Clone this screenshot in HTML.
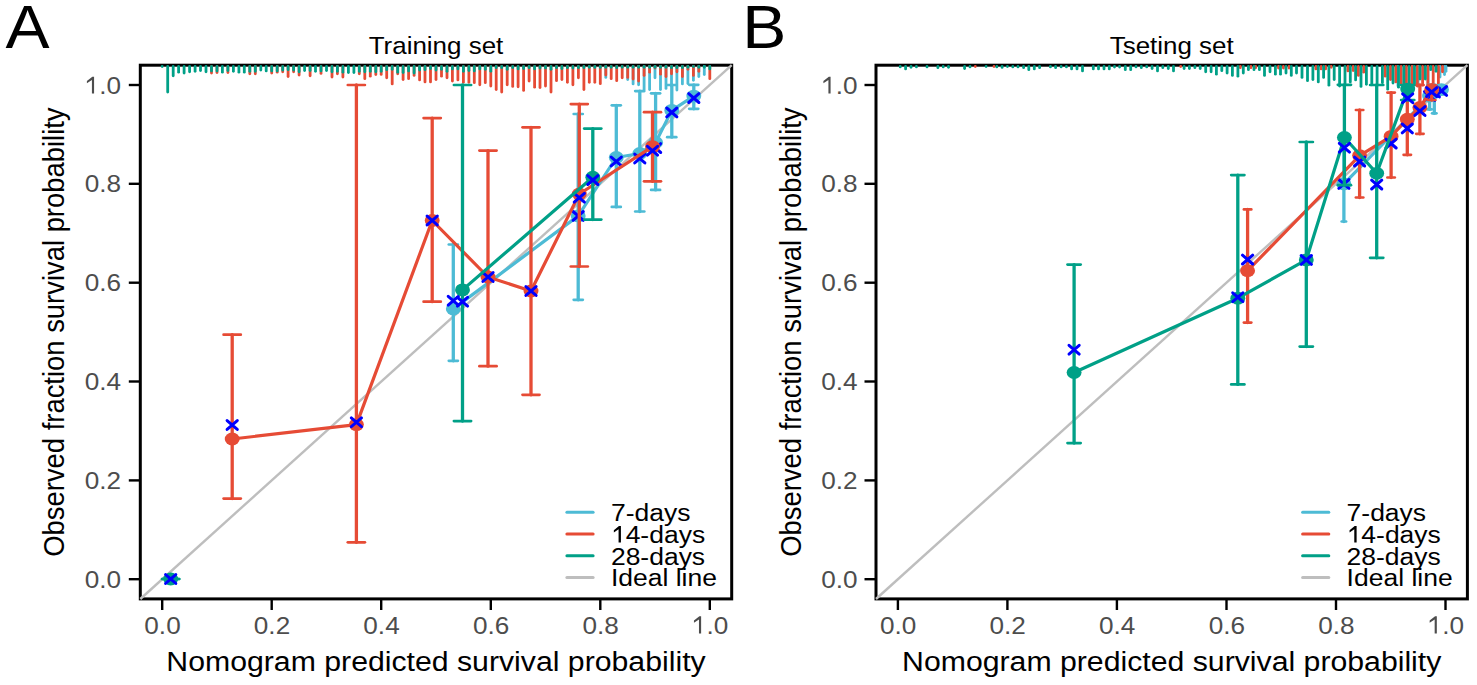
<!DOCTYPE html><html><head><meta charset="utf-8"><style>
*{margin:0;padding:0}
html,body{width:1477px;height:685px;overflow:hidden;background:#fff}
svg{display:block}
text{font-family:"Liberation Sans",sans-serif}
.tk{font-size:24px;fill:#4D4D4D}
.ti{font-size:23.6px;fill:#000}
.ax{font-size:27.8px;fill:#000}
.axy{font-size:30px;fill:#000}
.lt{font-size:61.5px;fill:#000}
.lg{font-size:24.2px;fill:#000}
</style></head><body><svg width="1477" height="685" viewBox="0 0 1477 685">
<rect width="1477" height="685" fill="#fff"/>
<rect x="140.3" y="65.2" width="591.4" height="533.7" fill="none" stroke="#000" stroke-width="3"/>
<line x1="140.3" y1="599.0" x2="731.7" y2="65.2" stroke="#BEBEBE" stroke-width="2.4"/>
<rect x="876.0" y="65.2" width="591.4" height="533.7" fill="none" stroke="#000" stroke-width="3"/>
<line x1="876.0" y1="599.0" x2="1467.4" y2="65.2" stroke="#BEBEBE" stroke-width="2.4"/>
<line x1="605.8" y1="66.4" x2="605.8" y2="77.4" stroke="#4DBBD5" stroke-width="2.8" stroke-linecap="round"/>
<line x1="627.7" y1="66.4" x2="627.7" y2="79.5" stroke="#4DBBD5" stroke-width="2.8" stroke-linecap="round"/>
<line x1="633.1" y1="66.4" x2="633.1" y2="83.9" stroke="#4DBBD5" stroke-width="2.8" stroke-linecap="round"/>
<line x1="638.6" y1="66.4" x2="638.6" y2="84.8" stroke="#4DBBD5" stroke-width="2.8" stroke-linecap="round"/>
<line x1="644.1" y1="66.4" x2="644.1" y2="89.2" stroke="#4DBBD5" stroke-width="2.8" stroke-linecap="round"/>
<line x1="649.6" y1="66.4" x2="649.6" y2="89.6" stroke="#4DBBD5" stroke-width="2.8" stroke-linecap="round"/>
<line x1="655.0" y1="66.4" x2="655.0" y2="77.8" stroke="#4DBBD5" stroke-width="2.8" stroke-linecap="round"/>
<line x1="660.5" y1="66.4" x2="660.5" y2="89.6" stroke="#4DBBD5" stroke-width="2.8" stroke-linecap="round"/>
<line x1="666.0" y1="66.4" x2="666.0" y2="88.4" stroke="#4DBBD5" stroke-width="2.8" stroke-linecap="round"/>
<line x1="671.5" y1="66.4" x2="671.5" y2="86.0" stroke="#4DBBD5" stroke-width="2.8" stroke-linecap="round"/>
<line x1="676.9" y1="66.4" x2="676.9" y2="90.0" stroke="#4DBBD5" stroke-width="2.8" stroke-linecap="round"/>
<line x1="682.4" y1="66.4" x2="682.4" y2="83.9" stroke="#4DBBD5" stroke-width="2.8" stroke-linecap="round"/>
<line x1="687.9" y1="66.4" x2="687.9" y2="83.5" stroke="#4DBBD5" stroke-width="2.8" stroke-linecap="round"/>
<line x1="693.4" y1="66.4" x2="693.4" y2="80.3" stroke="#4DBBD5" stroke-width="2.8" stroke-linecap="round"/>
<line x1="698.8" y1="66.4" x2="698.8" y2="76.6" stroke="#4DBBD5" stroke-width="2.8" stroke-linecap="round"/>
<line x1="704.3" y1="66.4" x2="704.3" y2="74.6" stroke="#4DBBD5" stroke-width="2.8" stroke-linecap="round"/>
<line x1="211.5" y1="66.4" x2="211.5" y2="73.0" stroke="#E64B35" stroke-width="2.8" stroke-linecap="round"/>
<line x1="217.0" y1="66.4" x2="217.0" y2="72.6" stroke="#E64B35" stroke-width="2.8" stroke-linecap="round"/>
<line x1="227.9" y1="66.4" x2="227.9" y2="72.6" stroke="#E64B35" stroke-width="2.8" stroke-linecap="round"/>
<line x1="249.8" y1="66.4" x2="249.8" y2="73.8" stroke="#E64B35" stroke-width="2.8" stroke-linecap="round"/>
<line x1="255.3" y1="66.4" x2="255.3" y2="73.8" stroke="#E64B35" stroke-width="2.8" stroke-linecap="round"/>
<line x1="271.7" y1="66.4" x2="271.7" y2="73.0" stroke="#E64B35" stroke-width="2.8" stroke-linecap="round"/>
<line x1="277.2" y1="66.4" x2="277.2" y2="72.2" stroke="#E64B35" stroke-width="2.8" stroke-linecap="round"/>
<line x1="282.7" y1="66.4" x2="282.7" y2="71.8" stroke="#E64B35" stroke-width="2.8" stroke-linecap="round"/>
<line x1="288.1" y1="66.4" x2="288.1" y2="76.6" stroke="#E64B35" stroke-width="2.8" stroke-linecap="round"/>
<line x1="293.6" y1="66.4" x2="293.6" y2="71.8" stroke="#E64B35" stroke-width="2.8" stroke-linecap="round"/>
<line x1="299.1" y1="66.4" x2="299.1" y2="75.0" stroke="#E64B35" stroke-width="2.8" stroke-linecap="round"/>
<line x1="310.1" y1="66.4" x2="310.1" y2="75.8" stroke="#E64B35" stroke-width="2.8" stroke-linecap="round"/>
<line x1="321.0" y1="66.4" x2="321.0" y2="73.4" stroke="#E64B35" stroke-width="2.8" stroke-linecap="round"/>
<line x1="332.0" y1="66.4" x2="332.0" y2="77.0" stroke="#E64B35" stroke-width="2.8" stroke-linecap="round"/>
<line x1="337.4" y1="66.4" x2="337.4" y2="73.8" stroke="#E64B35" stroke-width="2.8" stroke-linecap="round"/>
<line x1="342.9" y1="66.4" x2="342.9" y2="77.0" stroke="#E64B35" stroke-width="2.8" stroke-linecap="round"/>
<line x1="359.3" y1="66.4" x2="359.3" y2="73.8" stroke="#E64B35" stroke-width="2.8" stroke-linecap="round"/>
<line x1="364.8" y1="66.4" x2="364.8" y2="78.7" stroke="#E64B35" stroke-width="2.8" stroke-linecap="round"/>
<line x1="370.3" y1="66.4" x2="370.3" y2="76.2" stroke="#E64B35" stroke-width="2.8" stroke-linecap="round"/>
<line x1="375.8" y1="66.4" x2="375.8" y2="74.6" stroke="#E64B35" stroke-width="2.8" stroke-linecap="round"/>
<line x1="381.2" y1="66.4" x2="381.2" y2="74.4" stroke="#E64B35" stroke-width="2.8" stroke-linecap="round"/>
<line x1="386.7" y1="66.4" x2="386.7" y2="77.8" stroke="#E64B35" stroke-width="2.8" stroke-linecap="round"/>
<line x1="392.2" y1="66.4" x2="392.2" y2="83.9" stroke="#E64B35" stroke-width="2.8" stroke-linecap="round"/>
<line x1="397.7" y1="66.4" x2="397.7" y2="73.8" stroke="#E64B35" stroke-width="2.8" stroke-linecap="round"/>
<line x1="403.1" y1="66.4" x2="403.1" y2="79.5" stroke="#E64B35" stroke-width="2.8" stroke-linecap="round"/>
<line x1="408.6" y1="66.4" x2="408.6" y2="78.7" stroke="#E64B35" stroke-width="2.8" stroke-linecap="round"/>
<line x1="414.1" y1="66.4" x2="414.1" y2="75.4" stroke="#E64B35" stroke-width="2.8" stroke-linecap="round"/>
<line x1="419.6" y1="66.4" x2="419.6" y2="79.9" stroke="#E64B35" stroke-width="2.8" stroke-linecap="round"/>
<line x1="425.0" y1="66.4" x2="425.0" y2="81.9" stroke="#E64B35" stroke-width="2.8" stroke-linecap="round"/>
<line x1="430.5" y1="66.4" x2="430.5" y2="81.9" stroke="#E64B35" stroke-width="2.8" stroke-linecap="round"/>
<line x1="436.0" y1="66.4" x2="436.0" y2="79.5" stroke="#E64B35" stroke-width="2.8" stroke-linecap="round"/>
<line x1="441.5" y1="66.4" x2="441.5" y2="76.2" stroke="#E64B35" stroke-width="2.8" stroke-linecap="round"/>
<line x1="447.0" y1="66.4" x2="447.0" y2="77.8" stroke="#E64B35" stroke-width="2.8" stroke-linecap="round"/>
<line x1="452.4" y1="66.4" x2="452.4" y2="81.1" stroke="#E64B35" stroke-width="2.8" stroke-linecap="round"/>
<line x1="457.9" y1="66.4" x2="457.9" y2="79.9" stroke="#E64B35" stroke-width="2.8" stroke-linecap="round"/>
<line x1="463.4" y1="66.4" x2="463.4" y2="82.3" stroke="#E64B35" stroke-width="2.8" stroke-linecap="round"/>
<line x1="468.9" y1="66.4" x2="468.9" y2="82.3" stroke="#E64B35" stroke-width="2.8" stroke-linecap="round"/>
<line x1="474.3" y1="66.4" x2="474.3" y2="82.7" stroke="#E64B35" stroke-width="2.8" stroke-linecap="round"/>
<line x1="479.8" y1="66.4" x2="479.8" y2="84.8" stroke="#E64B35" stroke-width="2.8" stroke-linecap="round"/>
<line x1="485.3" y1="66.4" x2="485.3" y2="82.7" stroke="#E64B35" stroke-width="2.8" stroke-linecap="round"/>
<line x1="490.8" y1="66.4" x2="490.8" y2="86.1" stroke="#E64B35" stroke-width="2.8" stroke-linecap="round"/>
<line x1="496.2" y1="66.4" x2="496.2" y2="89.6" stroke="#E64B35" stroke-width="2.8" stroke-linecap="round"/>
<line x1="501.7" y1="66.4" x2="501.7" y2="92.1" stroke="#E64B35" stroke-width="2.8" stroke-linecap="round"/>
<line x1="507.2" y1="66.4" x2="507.2" y2="84.8" stroke="#E64B35" stroke-width="2.8" stroke-linecap="round"/>
<line x1="512.7" y1="66.4" x2="512.7" y2="86.4" stroke="#E64B35" stroke-width="2.8" stroke-linecap="round"/>
<line x1="518.1" y1="66.4" x2="518.1" y2="86.8" stroke="#E64B35" stroke-width="2.8" stroke-linecap="round"/>
<line x1="523.6" y1="66.4" x2="523.6" y2="90.4" stroke="#E64B35" stroke-width="2.8" stroke-linecap="round"/>
<line x1="529.1" y1="66.4" x2="529.1" y2="81.1" stroke="#E64B35" stroke-width="2.8" stroke-linecap="round"/>
<line x1="534.6" y1="66.4" x2="534.6" y2="87.2" stroke="#E64B35" stroke-width="2.8" stroke-linecap="round"/>
<line x1="540.0" y1="66.4" x2="540.0" y2="87.6" stroke="#E64B35" stroke-width="2.8" stroke-linecap="round"/>
<line x1="545.5" y1="66.4" x2="545.5" y2="86.0" stroke="#E64B35" stroke-width="2.8" stroke-linecap="round"/>
<line x1="551.0" y1="66.4" x2="551.0" y2="92.1" stroke="#E64B35" stroke-width="2.8" stroke-linecap="round"/>
<line x1="556.5" y1="66.4" x2="556.5" y2="80.7" stroke="#E64B35" stroke-width="2.8" stroke-linecap="round"/>
<line x1="561.9" y1="66.4" x2="561.9" y2="79.5" stroke="#E64B35" stroke-width="2.8" stroke-linecap="round"/>
<line x1="567.4" y1="66.4" x2="567.4" y2="82.3" stroke="#E64B35" stroke-width="2.8" stroke-linecap="round"/>
<line x1="572.9" y1="66.4" x2="572.9" y2="84.8" stroke="#E64B35" stroke-width="2.8" stroke-linecap="round"/>
<line x1="578.4" y1="66.4" x2="578.4" y2="77.8" stroke="#E64B35" stroke-width="2.8" stroke-linecap="round"/>
<line x1="583.9" y1="66.4" x2="583.9" y2="89.6" stroke="#E64B35" stroke-width="2.8" stroke-linecap="round"/>
<line x1="589.3" y1="66.4" x2="589.3" y2="82.3" stroke="#E64B35" stroke-width="2.8" stroke-linecap="round"/>
<line x1="594.8" y1="66.4" x2="594.8" y2="82.3" stroke="#E64B35" stroke-width="2.8" stroke-linecap="round"/>
<line x1="600.3" y1="66.4" x2="600.3" y2="83.7" stroke="#E64B35" stroke-width="2.8" stroke-linecap="round"/>
<line x1="605.8" y1="66.4" x2="605.8" y2="75.0" stroke="#E64B35" stroke-width="2.8" stroke-linecap="round"/>
<line x1="611.2" y1="66.4" x2="611.2" y2="78.7" stroke="#E64B35" stroke-width="2.8" stroke-linecap="round"/>
<line x1="616.7" y1="66.4" x2="616.7" y2="80.7" stroke="#E64B35" stroke-width="2.8" stroke-linecap="round"/>
<line x1="622.2" y1="66.4" x2="622.2" y2="77.8" stroke="#E64B35" stroke-width="2.8" stroke-linecap="round"/>
<line x1="627.7" y1="66.4" x2="627.7" y2="77.4" stroke="#E64B35" stroke-width="2.8" stroke-linecap="round"/>
<line x1="633.1" y1="66.4" x2="633.1" y2="79.1" stroke="#E64B35" stroke-width="2.8" stroke-linecap="round"/>
<line x1="638.6" y1="66.4" x2="638.6" y2="81.1" stroke="#E64B35" stroke-width="2.8" stroke-linecap="round"/>
<line x1="644.1" y1="66.4" x2="644.1" y2="75.4" stroke="#E64B35" stroke-width="2.8" stroke-linecap="round"/>
<line x1="649.6" y1="66.4" x2="649.6" y2="72.2" stroke="#E64B35" stroke-width="2.8" stroke-linecap="round"/>
<line x1="655.0" y1="66.4" x2="655.0" y2="68.1" stroke="#E64B35" stroke-width="2.8" stroke-linecap="round"/>
<line x1="660.5" y1="66.4" x2="660.5" y2="74.2" stroke="#E64B35" stroke-width="2.8" stroke-linecap="round"/>
<line x1="666.0" y1="66.4" x2="666.0" y2="76.6" stroke="#E64B35" stroke-width="2.8" stroke-linecap="round"/>
<line x1="671.5" y1="66.4" x2="671.5" y2="73.8" stroke="#E64B35" stroke-width="2.8" stroke-linecap="round"/>
<line x1="676.9" y1="66.4" x2="676.9" y2="71.8" stroke="#E64B35" stroke-width="2.8" stroke-linecap="round"/>
<line x1="682.4" y1="66.4" x2="682.4" y2="76.6" stroke="#E64B35" stroke-width="2.8" stroke-linecap="round"/>
<line x1="687.9" y1="66.4" x2="687.9" y2="69.3" stroke="#E64B35" stroke-width="2.8" stroke-linecap="round"/>
<line x1="693.4" y1="66.4" x2="693.4" y2="75.4" stroke="#E64B35" stroke-width="2.8" stroke-linecap="round"/>
<line x1="698.8" y1="66.4" x2="698.8" y2="71.3" stroke="#E64B35" stroke-width="2.8" stroke-linecap="round"/>
<line x1="709.8" y1="66.4" x2="709.8" y2="78.7" stroke="#E64B35" stroke-width="2.8" stroke-linecap="round"/>
<line x1="162.2" y1="66.4" x2="162.2" y2="66.5" stroke="#00A087" stroke-width="2.8" stroke-linecap="round"/>
<line x1="167.7" y1="66.4" x2="167.7" y2="92.1" stroke="#00A087" stroke-width="2.8" stroke-linecap="round"/>
<line x1="173.2" y1="66.4" x2="173.2" y2="75.8" stroke="#00A087" stroke-width="2.8" stroke-linecap="round"/>
<line x1="178.6" y1="66.4" x2="178.6" y2="72.2" stroke="#00A087" stroke-width="2.8" stroke-linecap="round"/>
<line x1="184.1" y1="66.4" x2="184.1" y2="73.0" stroke="#00A087" stroke-width="2.8" stroke-linecap="round"/>
<line x1="189.6" y1="66.4" x2="189.6" y2="71.8" stroke="#00A087" stroke-width="2.8" stroke-linecap="round"/>
<line x1="195.1" y1="66.4" x2="195.1" y2="71.3" stroke="#00A087" stroke-width="2.8" stroke-linecap="round"/>
<line x1="200.5" y1="66.4" x2="200.5" y2="70.5" stroke="#00A087" stroke-width="2.8" stroke-linecap="round"/>
<line x1="206.0" y1="66.4" x2="206.0" y2="71.8" stroke="#00A087" stroke-width="2.8" stroke-linecap="round"/>
<line x1="211.5" y1="66.4" x2="211.5" y2="70.9" stroke="#00A087" stroke-width="2.8" stroke-linecap="round"/>
<line x1="217.0" y1="66.4" x2="217.0" y2="70.9" stroke="#00A087" stroke-width="2.8" stroke-linecap="round"/>
<line x1="222.4" y1="66.4" x2="222.4" y2="72.2" stroke="#00A087" stroke-width="2.8" stroke-linecap="round"/>
<line x1="227.9" y1="66.4" x2="227.9" y2="70.5" stroke="#00A087" stroke-width="2.8" stroke-linecap="round"/>
<line x1="233.4" y1="66.4" x2="233.4" y2="71.3" stroke="#00A087" stroke-width="2.8" stroke-linecap="round"/>
<line x1="238.9" y1="66.4" x2="238.9" y2="72.2" stroke="#00A087" stroke-width="2.8" stroke-linecap="round"/>
<line x1="244.3" y1="66.4" x2="244.3" y2="72.2" stroke="#00A087" stroke-width="2.8" stroke-linecap="round"/>
<line x1="249.8" y1="66.4" x2="249.8" y2="71.3" stroke="#00A087" stroke-width="2.8" stroke-linecap="round"/>
<line x1="255.3" y1="66.4" x2="255.3" y2="71.3" stroke="#00A087" stroke-width="2.8" stroke-linecap="round"/>
<line x1="260.8" y1="66.4" x2="260.8" y2="70.1" stroke="#00A087" stroke-width="2.8" stroke-linecap="round"/>
<line x1="266.2" y1="66.4" x2="266.2" y2="70.9" stroke="#00A087" stroke-width="2.8" stroke-linecap="round"/>
<line x1="271.7" y1="66.4" x2="271.7" y2="70.9" stroke="#00A087" stroke-width="2.8" stroke-linecap="round"/>
<line x1="277.2" y1="66.4" x2="277.2" y2="70.9" stroke="#00A087" stroke-width="2.8" stroke-linecap="round"/>
<line x1="282.7" y1="66.4" x2="282.7" y2="70.1" stroke="#00A087" stroke-width="2.8" stroke-linecap="round"/>
<line x1="288.1" y1="66.4" x2="288.1" y2="69.7" stroke="#00A087" stroke-width="2.8" stroke-linecap="round"/>
<line x1="293.6" y1="66.4" x2="293.6" y2="70.1" stroke="#00A087" stroke-width="2.8" stroke-linecap="round"/>
<line x1="299.1" y1="66.4" x2="299.1" y2="71.8" stroke="#00A087" stroke-width="2.8" stroke-linecap="round"/>
<line x1="304.6" y1="66.4" x2="304.6" y2="70.5" stroke="#00A087" stroke-width="2.8" stroke-linecap="round"/>
<line x1="310.1" y1="66.4" x2="310.1" y2="70.5" stroke="#00A087" stroke-width="2.8" stroke-linecap="round"/>
<line x1="315.5" y1="66.4" x2="315.5" y2="71.3" stroke="#00A087" stroke-width="2.8" stroke-linecap="round"/>
<line x1="321.0" y1="66.4" x2="321.0" y2="70.9" stroke="#00A087" stroke-width="2.8" stroke-linecap="round"/>
<line x1="326.5" y1="66.4" x2="326.5" y2="70.5" stroke="#00A087" stroke-width="2.8" stroke-linecap="round"/>
<line x1="332.0" y1="66.4" x2="332.0" y2="71.8" stroke="#00A087" stroke-width="2.8" stroke-linecap="round"/>
<line x1="337.4" y1="66.4" x2="337.4" y2="71.3" stroke="#00A087" stroke-width="2.8" stroke-linecap="round"/>
<line x1="342.9" y1="66.4" x2="342.9" y2="72.2" stroke="#00A087" stroke-width="2.8" stroke-linecap="round"/>
<line x1="348.4" y1="66.4" x2="348.4" y2="72.6" stroke="#00A087" stroke-width="2.8" stroke-linecap="round"/>
<line x1="353.9" y1="66.4" x2="353.9" y2="72.6" stroke="#00A087" stroke-width="2.8" stroke-linecap="round"/>
<line x1="359.3" y1="66.4" x2="359.3" y2="71.3" stroke="#00A087" stroke-width="2.8" stroke-linecap="round"/>
<line x1="364.8" y1="66.4" x2="364.8" y2="71.8" stroke="#00A087" stroke-width="2.8" stroke-linecap="round"/>
<line x1="370.3" y1="66.4" x2="370.3" y2="71.3" stroke="#00A087" stroke-width="2.8" stroke-linecap="round"/>
<line x1="375.8" y1="66.4" x2="375.8" y2="71.8" stroke="#00A087" stroke-width="2.8" stroke-linecap="round"/>
<line x1="381.2" y1="66.4" x2="381.2" y2="71.3" stroke="#00A087" stroke-width="2.8" stroke-linecap="round"/>
<line x1="386.7" y1="66.4" x2="386.7" y2="69.7" stroke="#00A087" stroke-width="2.8" stroke-linecap="round"/>
<line x1="392.2" y1="66.4" x2="392.2" y2="69.3" stroke="#00A087" stroke-width="2.8" stroke-linecap="round"/>
<line x1="397.7" y1="66.4" x2="397.7" y2="72.2" stroke="#00A087" stroke-width="2.8" stroke-linecap="round"/>
<line x1="403.1" y1="66.4" x2="403.1" y2="72.6" stroke="#00A087" stroke-width="2.8" stroke-linecap="round"/>
<line x1="408.6" y1="66.4" x2="408.6" y2="70.9" stroke="#00A087" stroke-width="2.8" stroke-linecap="round"/>
<line x1="414.1" y1="66.4" x2="414.1" y2="73.0" stroke="#00A087" stroke-width="2.8" stroke-linecap="round"/>
<line x1="419.6" y1="66.4" x2="419.6" y2="70.1" stroke="#00A087" stroke-width="2.8" stroke-linecap="round"/>
<line x1="425.0" y1="66.4" x2="425.0" y2="69.7" stroke="#00A087" stroke-width="2.8" stroke-linecap="round"/>
<line x1="430.5" y1="66.4" x2="430.5" y2="68.5" stroke="#00A087" stroke-width="2.8" stroke-linecap="round"/>
<line x1="436.0" y1="66.4" x2="436.0" y2="70.1" stroke="#00A087" stroke-width="2.8" stroke-linecap="round"/>
<line x1="441.5" y1="66.4" x2="441.5" y2="69.3" stroke="#00A087" stroke-width="2.8" stroke-linecap="round"/>
<line x1="447.0" y1="66.4" x2="447.0" y2="71.3" stroke="#00A087" stroke-width="2.8" stroke-linecap="round"/>
<line x1="452.4" y1="66.4" x2="452.4" y2="68.9" stroke="#00A087" stroke-width="2.8" stroke-linecap="round"/>
<line x1="457.9" y1="66.4" x2="457.9" y2="68.9" stroke="#00A087" stroke-width="2.8" stroke-linecap="round"/>
<line x1="463.4" y1="66.4" x2="463.4" y2="71.3" stroke="#00A087" stroke-width="2.8" stroke-linecap="round"/>
<line x1="468.9" y1="66.4" x2="468.9" y2="70.5" stroke="#00A087" stroke-width="2.8" stroke-linecap="round"/>
<line x1="474.3" y1="66.4" x2="474.3" y2="70.9" stroke="#00A087" stroke-width="2.8" stroke-linecap="round"/>
<line x1="479.8" y1="66.4" x2="479.8" y2="68.9" stroke="#00A087" stroke-width="2.8" stroke-linecap="round"/>
<line x1="485.3" y1="66.4" x2="485.3" y2="69.3" stroke="#00A087" stroke-width="2.8" stroke-linecap="round"/>
<line x1="490.8" y1="66.4" x2="490.8" y2="71.2" stroke="#00A087" stroke-width="2.8" stroke-linecap="round"/>
<line x1="496.2" y1="66.4" x2="496.2" y2="67.7" stroke="#00A087" stroke-width="2.8" stroke-linecap="round"/>
<line x1="501.7" y1="66.4" x2="501.7" y2="67.7" stroke="#00A087" stroke-width="2.8" stroke-linecap="round"/>
<line x1="507.2" y1="66.4" x2="507.2" y2="69.3" stroke="#00A087" stroke-width="2.8" stroke-linecap="round"/>
<line x1="512.7" y1="66.4" x2="512.7" y2="67.7" stroke="#00A087" stroke-width="2.8" stroke-linecap="round"/>
<line x1="518.1" y1="66.4" x2="518.1" y2="68.9" stroke="#00A087" stroke-width="2.8" stroke-linecap="round"/>
<line x1="523.6" y1="66.4" x2="523.6" y2="68.5" stroke="#00A087" stroke-width="2.8" stroke-linecap="round"/>
<line x1="529.1" y1="66.4" x2="529.1" y2="67.7" stroke="#00A087" stroke-width="2.8" stroke-linecap="round"/>
<line x1="534.6" y1="66.4" x2="534.6" y2="68.9" stroke="#00A087" stroke-width="2.8" stroke-linecap="round"/>
<line x1="540.0" y1="66.4" x2="540.0" y2="68.1" stroke="#00A087" stroke-width="2.8" stroke-linecap="round"/>
<line x1="545.5" y1="66.4" x2="545.5" y2="68.1" stroke="#00A087" stroke-width="2.8" stroke-linecap="round"/>
<line x1="551.0" y1="66.4" x2="551.0" y2="69.3" stroke="#00A087" stroke-width="2.8" stroke-linecap="round"/>
<line x1="556.5" y1="66.4" x2="556.5" y2="67.7" stroke="#00A087" stroke-width="2.8" stroke-linecap="round"/>
<line x1="561.9" y1="66.4" x2="561.9" y2="68.5" stroke="#00A087" stroke-width="2.8" stroke-linecap="round"/>
<line x1="567.4" y1="66.4" x2="567.4" y2="67.7" stroke="#00A087" stroke-width="2.8" stroke-linecap="round"/>
<line x1="572.9" y1="66.4" x2="572.9" y2="68.1" stroke="#00A087" stroke-width="2.8" stroke-linecap="round"/>
<line x1="578.4" y1="66.4" x2="578.4" y2="67.7" stroke="#00A087" stroke-width="2.8" stroke-linecap="round"/>
<line x1="583.9" y1="66.4" x2="583.9" y2="67.7" stroke="#00A087" stroke-width="2.8" stroke-linecap="round"/>
<line x1="589.3" y1="66.4" x2="589.3" y2="67.3" stroke="#00A087" stroke-width="2.8" stroke-linecap="round"/>
<line x1="594.8" y1="66.4" x2="594.8" y2="67.4" stroke="#00A087" stroke-width="2.8" stroke-linecap="round"/>
<line x1="600.3" y1="66.4" x2="600.3" y2="67.4" stroke="#00A087" stroke-width="2.8" stroke-linecap="round"/>
<line x1="605.8" y1="66.4" x2="605.8" y2="67.3" stroke="#00A087" stroke-width="2.8" stroke-linecap="round"/>
<line x1="611.2" y1="66.4" x2="611.2" y2="67.3" stroke="#00A087" stroke-width="2.8" stroke-linecap="round"/>
<line x1="616.7" y1="66.4" x2="616.7" y2="67.7" stroke="#00A087" stroke-width="2.8" stroke-linecap="round"/>
<line x1="622.2" y1="66.4" x2="622.2" y2="67.3" stroke="#00A087" stroke-width="2.8" stroke-linecap="round"/>
<line x1="627.7" y1="66.4" x2="627.7" y2="67.3" stroke="#00A087" stroke-width="2.8" stroke-linecap="round"/>
<line x1="633.1" y1="66.4" x2="633.1" y2="67.3" stroke="#00A087" stroke-width="2.8" stroke-linecap="round"/>
<line x1="638.6" y1="66.4" x2="638.6" y2="67.3" stroke="#00A087" stroke-width="2.8" stroke-linecap="round"/>
<line x1="644.1" y1="66.4" x2="644.1" y2="67.3" stroke="#00A087" stroke-width="2.8" stroke-linecap="round"/>
<line x1="649.6" y1="66.4" x2="649.6" y2="67.3" stroke="#00A087" stroke-width="2.8" stroke-linecap="round"/>
<line x1="655.0" y1="66.4" x2="655.0" y2="67.3" stroke="#00A087" stroke-width="2.8" stroke-linecap="round"/>
<line x1="660.5" y1="66.4" x2="660.5" y2="67.3" stroke="#00A087" stroke-width="2.8" stroke-linecap="round"/>
<line x1="666.0" y1="66.4" x2="666.0" y2="67.3" stroke="#00A087" stroke-width="2.8" stroke-linecap="round"/>
<line x1="671.5" y1="66.4" x2="671.5" y2="67.7" stroke="#00A087" stroke-width="2.8" stroke-linecap="round"/>
<line x1="676.9" y1="66.4" x2="676.9" y2="67.7" stroke="#00A087" stroke-width="2.8" stroke-linecap="round"/>
<line x1="682.4" y1="66.4" x2="682.4" y2="67.7" stroke="#00A087" stroke-width="2.8" stroke-linecap="round"/>
<line x1="687.9" y1="66.4" x2="687.9" y2="67.3" stroke="#00A087" stroke-width="2.8" stroke-linecap="round"/>
<line x1="693.4" y1="66.4" x2="693.4" y2="66.5" stroke="#00A087" stroke-width="2.8" stroke-linecap="round"/>
<line x1="698.8" y1="66.4" x2="698.8" y2="67.3" stroke="#00A087" stroke-width="2.8" stroke-linecap="round"/>
<line x1="704.3" y1="66.4" x2="704.3" y2="67.3" stroke="#00A087" stroke-width="2.8" stroke-linecap="round"/>
<line x1="709.8" y1="66.4" x2="709.8" y2="68.9" stroke="#00A087" stroke-width="2.8" stroke-linecap="round"/>
<line x1="1398.0" y1="66.4" x2="1398.0" y2="86.0" stroke="#4DBBD5" stroke-width="2.8" stroke-linecap="round"/>
<line x1="1404.0" y1="66.4" x2="1404.0" y2="86.0" stroke="#4DBBD5" stroke-width="2.8" stroke-linecap="round"/>
<line x1="1412.5" y1="66.4" x2="1412.5" y2="87.6" stroke="#4DBBD5" stroke-width="2.8" stroke-linecap="round"/>
<line x1="1418.0" y1="66.4" x2="1418.0" y2="86.0" stroke="#4DBBD5" stroke-width="2.8" stroke-linecap="round"/>
<line x1="1428.0" y1="66.4" x2="1428.0" y2="87.6" stroke="#4DBBD5" stroke-width="2.8" stroke-linecap="round"/>
<line x1="1440.0" y1="66.4" x2="1440.0" y2="77.0" stroke="#4DBBD5" stroke-width="2.8" stroke-linecap="round"/>
<line x1="1444.5" y1="66.4" x2="1444.5" y2="74.6" stroke="#4DBBD5" stroke-width="2.8" stroke-linecap="round"/>
<line x1="1446.0" y1="66.4" x2="1446.0" y2="71.3" stroke="#4DBBD5" stroke-width="2.8" stroke-linecap="round"/>
<line x1="975.3" y1="66.4" x2="975.3" y2="66.5" stroke="#E64B35" stroke-width="2.8" stroke-linecap="round"/>
<line x1="994.0" y1="66.4" x2="994.0" y2="66.5" stroke="#E64B35" stroke-width="2.8" stroke-linecap="round"/>
<line x1="1180.7" y1="66.4" x2="1180.7" y2="66.6" stroke="#E64B35" stroke-width="2.8" stroke-linecap="round"/>
<line x1="1240.3" y1="66.4" x2="1240.3" y2="67.7" stroke="#E64B35" stroke-width="2.8" stroke-linecap="round"/>
<line x1="1250.9" y1="66.4" x2="1250.9" y2="67.7" stroke="#E64B35" stroke-width="2.8" stroke-linecap="round"/>
<line x1="1255.7" y1="66.4" x2="1255.7" y2="67.7" stroke="#E64B35" stroke-width="2.8" stroke-linecap="round"/>
<line x1="1278.5" y1="66.4" x2="1278.5" y2="68.1" stroke="#E64B35" stroke-width="2.8" stroke-linecap="round"/>
<line x1="1283.4" y1="66.4" x2="1283.4" y2="68.1" stroke="#E64B35" stroke-width="2.8" stroke-linecap="round"/>
<line x1="1289.0" y1="66.4" x2="1289.0" y2="68.1" stroke="#E64B35" stroke-width="2.8" stroke-linecap="round"/>
<line x1="1315.9" y1="66.4" x2="1315.9" y2="68.9" stroke="#E64B35" stroke-width="2.8" stroke-linecap="round"/>
<line x1="1321.1" y1="66.4" x2="1321.1" y2="68.9" stroke="#E64B35" stroke-width="2.8" stroke-linecap="round"/>
<line x1="1325.6" y1="66.4" x2="1325.6" y2="68.9" stroke="#E64B35" stroke-width="2.8" stroke-linecap="round"/>
<line x1="1331.2" y1="66.4" x2="1331.2" y2="67.3" stroke="#E64B35" stroke-width="2.8" stroke-linecap="round"/>
<line x1="1347.9" y1="66.4" x2="1347.9" y2="70.9" stroke="#E64B35" stroke-width="2.8" stroke-linecap="round"/>
<line x1="1353.2" y1="66.4" x2="1353.2" y2="70.5" stroke="#E64B35" stroke-width="2.8" stroke-linecap="round"/>
<line x1="1358.4" y1="66.4" x2="1358.4" y2="75.4" stroke="#E64B35" stroke-width="2.8" stroke-linecap="round"/>
<line x1="1363.7" y1="66.4" x2="1363.7" y2="72.2" stroke="#E64B35" stroke-width="2.8" stroke-linecap="round"/>
<line x1="1385.2" y1="66.4" x2="1385.2" y2="76.2" stroke="#E64B35" stroke-width="2.8" stroke-linecap="round"/>
<line x1="1390.5" y1="66.4" x2="1390.5" y2="79.5" stroke="#E64B35" stroke-width="2.8" stroke-linecap="round"/>
<line x1="1395.8" y1="66.4" x2="1395.8" y2="81.9" stroke="#E64B35" stroke-width="2.8" stroke-linecap="round"/>
<line x1="1401.1" y1="66.4" x2="1401.1" y2="83.5" stroke="#E64B35" stroke-width="2.8" stroke-linecap="round"/>
<line x1="1406.4" y1="66.4" x2="1406.4" y2="82.7" stroke="#E64B35" stroke-width="2.8" stroke-linecap="round"/>
<line x1="1412.0" y1="66.4" x2="1412.0" y2="84.3" stroke="#E64B35" stroke-width="2.8" stroke-linecap="round"/>
<line x1="1417.3" y1="66.4" x2="1417.3" y2="86.0" stroke="#E64B35" stroke-width="2.8" stroke-linecap="round"/>
<line x1="1422.6" y1="66.4" x2="1422.6" y2="85.2" stroke="#E64B35" stroke-width="2.8" stroke-linecap="round"/>
<line x1="1427.9" y1="66.4" x2="1427.9" y2="86.0" stroke="#E64B35" stroke-width="2.8" stroke-linecap="round"/>
<line x1="1433.2" y1="66.4" x2="1433.2" y2="86.0" stroke="#E64B35" stroke-width="2.8" stroke-linecap="round"/>
<line x1="1438.4" y1="66.4" x2="1438.4" y2="84.3" stroke="#E64B35" stroke-width="2.8" stroke-linecap="round"/>
<line x1="1442.5" y1="66.4" x2="1442.5" y2="71.8" stroke="#E64B35" stroke-width="2.8" stroke-linecap="round"/>
<line x1="900.2" y1="66.4" x2="900.2" y2="66.9" stroke="#00A087" stroke-width="2.8" stroke-linecap="round"/>
<line x1="905.6" y1="66.4" x2="905.6" y2="68.9" stroke="#00A087" stroke-width="2.8" stroke-linecap="round"/>
<line x1="911.0" y1="66.4" x2="911.0" y2="67.3" stroke="#00A087" stroke-width="2.8" stroke-linecap="round"/>
<line x1="916.4" y1="66.4" x2="916.4" y2="66.9" stroke="#00A087" stroke-width="2.8" stroke-linecap="round"/>
<line x1="927.0" y1="66.4" x2="927.0" y2="66.9" stroke="#00A087" stroke-width="2.8" stroke-linecap="round"/>
<line x1="937.9" y1="66.4" x2="937.9" y2="67.7" stroke="#00A087" stroke-width="2.8" stroke-linecap="round"/>
<line x1="943.2" y1="66.4" x2="943.2" y2="66.9" stroke="#00A087" stroke-width="2.8" stroke-linecap="round"/>
<line x1="948.5" y1="66.4" x2="948.5" y2="67.3" stroke="#00A087" stroke-width="2.8" stroke-linecap="round"/>
<line x1="964.6" y1="66.4" x2="964.6" y2="68.5" stroke="#00A087" stroke-width="2.8" stroke-linecap="round"/>
<line x1="970.0" y1="66.4" x2="970.0" y2="66.9" stroke="#00A087" stroke-width="2.8" stroke-linecap="round"/>
<line x1="986.1" y1="66.4" x2="986.1" y2="66.5" stroke="#00A087" stroke-width="2.8" stroke-linecap="round"/>
<line x1="996.8" y1="66.4" x2="996.8" y2="66.9" stroke="#00A087" stroke-width="2.8" stroke-linecap="round"/>
<line x1="1002.1" y1="66.4" x2="1002.1" y2="67.4" stroke="#00A087" stroke-width="2.8" stroke-linecap="round"/>
<line x1="1007.4" y1="66.4" x2="1007.4" y2="66.6" stroke="#00A087" stroke-width="2.8" stroke-linecap="round"/>
<line x1="1012.8" y1="66.4" x2="1012.8" y2="66.9" stroke="#00A087" stroke-width="2.8" stroke-linecap="round"/>
<line x1="1018.0" y1="66.4" x2="1018.0" y2="66.9" stroke="#00A087" stroke-width="2.8" stroke-linecap="round"/>
<line x1="1023.6" y1="66.4" x2="1023.6" y2="67.7" stroke="#00A087" stroke-width="2.8" stroke-linecap="round"/>
<line x1="1028.8" y1="66.4" x2="1028.8" y2="69.7" stroke="#00A087" stroke-width="2.8" stroke-linecap="round"/>
<line x1="1034.3" y1="66.4" x2="1034.3" y2="68.9" stroke="#00A087" stroke-width="2.8" stroke-linecap="round"/>
<line x1="1039.6" y1="66.4" x2="1039.6" y2="67.7" stroke="#00A087" stroke-width="2.8" stroke-linecap="round"/>
<line x1="1050.4" y1="66.4" x2="1050.4" y2="66.9" stroke="#00A087" stroke-width="2.8" stroke-linecap="round"/>
<line x1="1055.6" y1="66.4" x2="1055.6" y2="67.7" stroke="#00A087" stroke-width="2.8" stroke-linecap="round"/>
<line x1="1061.1" y1="66.4" x2="1061.1" y2="66.9" stroke="#00A087" stroke-width="2.8" stroke-linecap="round"/>
<line x1="1066.4" y1="66.4" x2="1066.4" y2="66.9" stroke="#00A087" stroke-width="2.8" stroke-linecap="round"/>
<line x1="1071.6" y1="66.4" x2="1071.6" y2="68.9" stroke="#00A087" stroke-width="2.8" stroke-linecap="round"/>
<line x1="1077.0" y1="66.4" x2="1077.0" y2="68.9" stroke="#00A087" stroke-width="2.8" stroke-linecap="round"/>
<line x1="1082.5" y1="66.4" x2="1082.5" y2="70.9" stroke="#00A087" stroke-width="2.8" stroke-linecap="round"/>
<line x1="1093.3" y1="66.4" x2="1093.3" y2="68.9" stroke="#00A087" stroke-width="2.8" stroke-linecap="round"/>
<line x1="1098.5" y1="66.4" x2="1098.5" y2="68.9" stroke="#00A087" stroke-width="2.8" stroke-linecap="round"/>
<line x1="1104.0" y1="66.4" x2="1104.0" y2="68.9" stroke="#00A087" stroke-width="2.8" stroke-linecap="round"/>
<line x1="1109.3" y1="66.4" x2="1109.3" y2="68.9" stroke="#00A087" stroke-width="2.8" stroke-linecap="round"/>
<line x1="1114.5" y1="66.4" x2="1114.5" y2="67.1" stroke="#00A087" stroke-width="2.8" stroke-linecap="round"/>
<line x1="1119.6" y1="66.4" x2="1119.6" y2="67.0" stroke="#00A087" stroke-width="2.8" stroke-linecap="round"/>
<line x1="1125.3" y1="66.4" x2="1125.3" y2="69.7" stroke="#00A087" stroke-width="2.8" stroke-linecap="round"/>
<line x1="1130.7" y1="66.4" x2="1130.7" y2="69.7" stroke="#00A087" stroke-width="2.8" stroke-linecap="round"/>
<line x1="1136.0" y1="66.4" x2="1136.0" y2="66.9" stroke="#00A087" stroke-width="2.8" stroke-linecap="round"/>
<line x1="1141.3" y1="66.4" x2="1141.3" y2="67.7" stroke="#00A087" stroke-width="2.8" stroke-linecap="round"/>
<line x1="1146.7" y1="66.4" x2="1146.7" y2="66.9" stroke="#00A087" stroke-width="2.8" stroke-linecap="round"/>
<line x1="1152.1" y1="66.4" x2="1152.1" y2="68.5" stroke="#00A087" stroke-width="2.8" stroke-linecap="round"/>
<line x1="1157.5" y1="66.4" x2="1157.5" y2="70.9" stroke="#00A087" stroke-width="2.8" stroke-linecap="round"/>
<line x1="1162.8" y1="66.4" x2="1162.8" y2="67.7" stroke="#00A087" stroke-width="2.8" stroke-linecap="round"/>
<line x1="1168.3" y1="66.4" x2="1168.3" y2="68.5" stroke="#00A087" stroke-width="2.8" stroke-linecap="round"/>
<line x1="1173.5" y1="66.4" x2="1173.5" y2="70.9" stroke="#00A087" stroke-width="2.8" stroke-linecap="round"/>
<line x1="1184.1" y1="66.4" x2="1184.1" y2="68.5" stroke="#00A087" stroke-width="2.8" stroke-linecap="round"/>
<line x1="1189.4" y1="66.4" x2="1189.4" y2="68.5" stroke="#00A087" stroke-width="2.8" stroke-linecap="round"/>
<line x1="1194.9" y1="66.4" x2="1194.9" y2="67.7" stroke="#00A087" stroke-width="2.8" stroke-linecap="round"/>
<line x1="1200.2" y1="66.4" x2="1200.2" y2="68.5" stroke="#00A087" stroke-width="2.8" stroke-linecap="round"/>
<line x1="1205.7" y1="66.4" x2="1205.7" y2="71.8" stroke="#00A087" stroke-width="2.8" stroke-linecap="round"/>
<line x1="1211.1" y1="66.4" x2="1211.1" y2="71.8" stroke="#00A087" stroke-width="2.8" stroke-linecap="round"/>
<line x1="1216.4" y1="66.4" x2="1216.4" y2="74.2" stroke="#00A087" stroke-width="2.8" stroke-linecap="round"/>
<line x1="1221.8" y1="66.4" x2="1221.8" y2="70.7" stroke="#00A087" stroke-width="2.8" stroke-linecap="round"/>
<line x1="1227.1" y1="66.4" x2="1227.1" y2="73.0" stroke="#00A087" stroke-width="2.8" stroke-linecap="round"/>
<line x1="1232.4" y1="66.4" x2="1232.4" y2="75.4" stroke="#00A087" stroke-width="2.8" stroke-linecap="round"/>
<line x1="1237.9" y1="66.4" x2="1237.9" y2="76.2" stroke="#00A087" stroke-width="2.8" stroke-linecap="round"/>
<line x1="1243.3" y1="66.4" x2="1243.3" y2="73.0" stroke="#00A087" stroke-width="2.8" stroke-linecap="round"/>
<line x1="1248.4" y1="66.4" x2="1248.4" y2="69.7" stroke="#00A087" stroke-width="2.8" stroke-linecap="round"/>
<line x1="1254.0" y1="66.4" x2="1254.0" y2="69.7" stroke="#00A087" stroke-width="2.8" stroke-linecap="round"/>
<line x1="1259.4" y1="66.4" x2="1259.4" y2="69.7" stroke="#00A087" stroke-width="2.8" stroke-linecap="round"/>
<line x1="1264.5" y1="66.4" x2="1264.5" y2="75.4" stroke="#00A087" stroke-width="2.8" stroke-linecap="round"/>
<line x1="1270.0" y1="66.4" x2="1270.0" y2="71.8" stroke="#00A087" stroke-width="2.8" stroke-linecap="round"/>
<line x1="1275.4" y1="66.4" x2="1275.4" y2="74.2" stroke="#00A087" stroke-width="2.8" stroke-linecap="round"/>
<line x1="1280.5" y1="66.4" x2="1280.5" y2="74.2" stroke="#00A087" stroke-width="2.8" stroke-linecap="round"/>
<line x1="1286.0" y1="66.4" x2="1286.0" y2="73.0" stroke="#00A087" stroke-width="2.8" stroke-linecap="round"/>
<line x1="1291.3" y1="66.4" x2="1291.3" y2="75.4" stroke="#00A087" stroke-width="2.8" stroke-linecap="round"/>
<line x1="1296.5" y1="66.4" x2="1296.5" y2="73.0" stroke="#00A087" stroke-width="2.8" stroke-linecap="round"/>
<line x1="1302.0" y1="66.4" x2="1302.0" y2="77.4" stroke="#00A087" stroke-width="2.8" stroke-linecap="round"/>
<line x1="1307.5" y1="66.4" x2="1307.5" y2="80.7" stroke="#00A087" stroke-width="2.8" stroke-linecap="round"/>
<line x1="1312.9" y1="66.4" x2="1312.9" y2="79.5" stroke="#00A087" stroke-width="2.8" stroke-linecap="round"/>
<line x1="1318.3" y1="66.4" x2="1318.3" y2="81.9" stroke="#00A087" stroke-width="2.8" stroke-linecap="round"/>
<line x1="1323.6" y1="66.4" x2="1323.6" y2="77.4" stroke="#00A087" stroke-width="2.8" stroke-linecap="round"/>
<line x1="1328.9" y1="66.4" x2="1328.9" y2="85.2" stroke="#00A087" stroke-width="2.8" stroke-linecap="round"/>
<line x1="1334.2" y1="66.4" x2="1334.2" y2="79.6" stroke="#00A087" stroke-width="2.8" stroke-linecap="round"/>
<line x1="1339.6" y1="66.4" x2="1339.6" y2="86.0" stroke="#00A087" stroke-width="2.8" stroke-linecap="round"/>
<line x1="1345.0" y1="66.4" x2="1345.0" y2="84.8" stroke="#00A087" stroke-width="2.8" stroke-linecap="round"/>
<line x1="1350.3" y1="66.4" x2="1350.3" y2="81.9" stroke="#00A087" stroke-width="2.8" stroke-linecap="round"/>
<line x1="1355.6" y1="66.4" x2="1355.6" y2="79.9" stroke="#00A087" stroke-width="2.8" stroke-linecap="round"/>
<line x1="1361.0" y1="66.4" x2="1361.0" y2="86.4" stroke="#00A087" stroke-width="2.8" stroke-linecap="round"/>
<line x1="1366.4" y1="66.4" x2="1366.4" y2="84.3" stroke="#00A087" stroke-width="2.8" stroke-linecap="round"/>
<line x1="1371.8" y1="66.4" x2="1371.8" y2="84.8" stroke="#00A087" stroke-width="2.8" stroke-linecap="round"/>
<line x1="1377.1" y1="66.4" x2="1377.1" y2="85.2" stroke="#00A087" stroke-width="2.8" stroke-linecap="round"/>
<line x1="1382.4" y1="66.4" x2="1382.4" y2="82.7" stroke="#00A087" stroke-width="2.8" stroke-linecap="round"/>
<line x1="1387.7" y1="66.4" x2="1387.7" y2="89.2" stroke="#00A087" stroke-width="2.8" stroke-linecap="round"/>
<line x1="1393.0" y1="66.4" x2="1393.0" y2="83.1" stroke="#00A087" stroke-width="2.8" stroke-linecap="round"/>
<line x1="1398.5" y1="66.4" x2="1398.5" y2="87.2" stroke="#00A087" stroke-width="2.8" stroke-linecap="round"/>
<line x1="1403.9" y1="66.4" x2="1403.9" y2="86.0" stroke="#00A087" stroke-width="2.8" stroke-linecap="round"/>
<line x1="1409.2" y1="66.4" x2="1409.2" y2="83.5" stroke="#00A087" stroke-width="2.8" stroke-linecap="round"/>
<line x1="1414.5" y1="66.4" x2="1414.5" y2="85.2" stroke="#00A087" stroke-width="2.8" stroke-linecap="round"/>
<line x1="1420.0" y1="66.4" x2="1420.0" y2="79.1" stroke="#00A087" stroke-width="2.8" stroke-linecap="round"/>
<line x1="1425.3" y1="66.4" x2="1425.3" y2="79.1" stroke="#00A087" stroke-width="2.8" stroke-linecap="round"/>
<line x1="1430.7" y1="66.4" x2="1430.7" y2="69.7" stroke="#00A087" stroke-width="2.8" stroke-linecap="round"/>
<line x1="1436.0" y1="66.4" x2="1436.0" y2="71.3" stroke="#00A087" stroke-width="2.8" stroke-linecap="round"/>
<line x1="453.3" y1="244.5" x2="453.3" y2="360.8" stroke="#4DBBD5" stroke-width="3.3" stroke-linecap="round"/>
<line x1="448.8" y1="244.5" x2="457.9" y2="244.5" stroke="#4DBBD5" stroke-width="2.7" stroke-linecap="round"/>
<line x1="448.8" y1="360.8" x2="457.9" y2="360.8" stroke="#4DBBD5" stroke-width="2.7" stroke-linecap="round"/>
<line x1="578.2" y1="114.0" x2="578.2" y2="299.8" stroke="#4DBBD5" stroke-width="3.3" stroke-linecap="round"/>
<line x1="573.7" y1="114.0" x2="582.8" y2="114.0" stroke="#4DBBD5" stroke-width="2.7" stroke-linecap="round"/>
<line x1="573.7" y1="299.8" x2="582.8" y2="299.8" stroke="#4DBBD5" stroke-width="2.7" stroke-linecap="round"/>
<line x1="616.3" y1="105.3" x2="616.3" y2="206.9" stroke="#4DBBD5" stroke-width="3.3" stroke-linecap="round"/>
<line x1="611.8" y1="105.3" x2="620.8" y2="105.3" stroke="#4DBBD5" stroke-width="2.7" stroke-linecap="round"/>
<line x1="611.8" y1="206.9" x2="620.8" y2="206.9" stroke="#4DBBD5" stroke-width="2.7" stroke-linecap="round"/>
<line x1="639.8" y1="91.1" x2="639.8" y2="211.5" stroke="#4DBBD5" stroke-width="3.3" stroke-linecap="round"/>
<line x1="635.2" y1="91.1" x2="644.3" y2="91.1" stroke="#4DBBD5" stroke-width="2.7" stroke-linecap="round"/>
<line x1="635.2" y1="211.5" x2="644.3" y2="211.5" stroke="#4DBBD5" stroke-width="2.7" stroke-linecap="round"/>
<line x1="655.6" y1="93.3" x2="655.6" y2="189.9" stroke="#4DBBD5" stroke-width="3.3" stroke-linecap="round"/>
<line x1="651.1" y1="93.3" x2="660.1" y2="93.3" stroke="#4DBBD5" stroke-width="2.7" stroke-linecap="round"/>
<line x1="651.1" y1="189.9" x2="660.1" y2="189.9" stroke="#4DBBD5" stroke-width="2.7" stroke-linecap="round"/>
<line x1="671.8" y1="85.0" x2="671.8" y2="137.2" stroke="#4DBBD5" stroke-width="3.3" stroke-linecap="round"/>
<line x1="667.2" y1="85.0" x2="676.3" y2="85.0" stroke="#4DBBD5" stroke-width="2.7" stroke-linecap="round"/>
<line x1="667.2" y1="137.2" x2="676.3" y2="137.2" stroke="#4DBBD5" stroke-width="2.7" stroke-linecap="round"/>
<line x1="693.8" y1="84.8" x2="693.8" y2="108.8" stroke="#4DBBD5" stroke-width="3.3" stroke-linecap="round"/>
<line x1="689.2" y1="84.8" x2="698.3" y2="84.8" stroke="#4DBBD5" stroke-width="2.7" stroke-linecap="round"/>
<line x1="689.2" y1="108.8" x2="698.3" y2="108.8" stroke="#4DBBD5" stroke-width="2.7" stroke-linecap="round"/>
<polyline points="453.3,308.9 578.2,215.9 616.3,157.5 639.8,153.5 655.6,142.5 671.8,110.4 693.8,96.1" fill="none" stroke="#4DBBD5" stroke-width="3.2" stroke-linejoin="round" stroke-linecap="round"/>
<ellipse cx="453.3" cy="308.9" rx="7.45" ry="6.4" fill="#4DBBD5"/>
<ellipse cx="578.2" cy="215.9" rx="7.45" ry="6.4" fill="#4DBBD5"/>
<ellipse cx="616.3" cy="157.5" rx="7.45" ry="6.4" fill="#4DBBD5"/>
<ellipse cx="639.8" cy="153.5" rx="7.45" ry="6.4" fill="#4DBBD5"/>
<ellipse cx="655.6" cy="142.5" rx="7.45" ry="6.4" fill="#4DBBD5"/>
<ellipse cx="671.8" cy="110.4" rx="7.45" ry="6.4" fill="#4DBBD5"/>
<ellipse cx="693.8" cy="96.1" rx="7.45" ry="6.4" fill="#4DBBD5"/>
<path d="M448.2,296.3L458.4,305.1M448.2,305.1L458.4,296.3" stroke="#0000FF" stroke-width="3.0" stroke-linecap="round"/>
<path d="M573.1,211.5L583.3,220.3M573.1,220.3L583.3,211.5" stroke="#0000FF" stroke-width="3.0" stroke-linecap="round"/>
<path d="M611.2,157.1L621.4,165.9M611.2,165.9L621.4,157.1" stroke="#0000FF" stroke-width="3.0" stroke-linecap="round"/>
<path d="M634.7,154.1L644.9,162.9M634.7,162.9L644.9,154.1" stroke="#0000FF" stroke-width="3.0" stroke-linecap="round"/>
<path d="M650.5,143.7L660.7,152.5M650.5,152.5L660.7,143.7" stroke="#0000FF" stroke-width="3.0" stroke-linecap="round"/>
<path d="M666.7,108.0L676.9,116.8M666.7,116.8L676.9,108.0" stroke="#0000FF" stroke-width="3.0" stroke-linecap="round"/>
<path d="M688.7,93.7L698.9,102.5M688.7,102.5L698.9,93.7" stroke="#0000FF" stroke-width="3.0" stroke-linecap="round"/>
<line x1="232.2" y1="334.7" x2="232.2" y2="498.6" stroke="#E64B35" stroke-width="3.3" stroke-linecap="round"/>
<line x1="223.6" y1="334.7" x2="240.8" y2="334.7" stroke="#E64B35" stroke-width="2.7" stroke-linecap="round"/>
<line x1="223.6" y1="498.6" x2="240.8" y2="498.6" stroke="#E64B35" stroke-width="2.7" stroke-linecap="round"/>
<line x1="356.4" y1="85.0" x2="356.4" y2="542.3" stroke="#E64B35" stroke-width="3.3" stroke-linecap="round"/>
<line x1="347.8" y1="85.0" x2="364.9" y2="85.0" stroke="#E64B35" stroke-width="2.7" stroke-linecap="round"/>
<line x1="347.8" y1="542.3" x2="364.9" y2="542.3" stroke="#E64B35" stroke-width="2.7" stroke-linecap="round"/>
<line x1="432.2" y1="118.1" x2="432.2" y2="301.7" stroke="#E64B35" stroke-width="3.3" stroke-linecap="round"/>
<line x1="423.6" y1="118.1" x2="440.8" y2="118.1" stroke="#E64B35" stroke-width="2.7" stroke-linecap="round"/>
<line x1="423.6" y1="301.7" x2="440.8" y2="301.7" stroke="#E64B35" stroke-width="2.7" stroke-linecap="round"/>
<line x1="488.0" y1="150.6" x2="488.0" y2="366.2" stroke="#E64B35" stroke-width="3.3" stroke-linecap="round"/>
<line x1="479.4" y1="150.6" x2="496.6" y2="150.6" stroke="#E64B35" stroke-width="2.7" stroke-linecap="round"/>
<line x1="479.4" y1="366.2" x2="496.6" y2="366.2" stroke="#E64B35" stroke-width="2.7" stroke-linecap="round"/>
<line x1="531.0" y1="127.3" x2="531.0" y2="394.8" stroke="#E64B35" stroke-width="3.3" stroke-linecap="round"/>
<line x1="522.5" y1="127.3" x2="539.5" y2="127.3" stroke="#E64B35" stroke-width="2.7" stroke-linecap="round"/>
<line x1="522.5" y1="394.8" x2="539.5" y2="394.8" stroke="#E64B35" stroke-width="2.7" stroke-linecap="round"/>
<line x1="579.3" y1="104.1" x2="579.3" y2="266.5" stroke="#E64B35" stroke-width="3.3" stroke-linecap="round"/>
<line x1="570.8" y1="104.1" x2="587.8" y2="104.1" stroke="#E64B35" stroke-width="2.7" stroke-linecap="round"/>
<line x1="570.8" y1="266.5" x2="587.8" y2="266.5" stroke="#E64B35" stroke-width="2.7" stroke-linecap="round"/>
<line x1="652.5" y1="112.2" x2="652.5" y2="181.3" stroke="#E64B35" stroke-width="3.3" stroke-linecap="round"/>
<line x1="644.0" y1="112.2" x2="661.0" y2="112.2" stroke="#E64B35" stroke-width="2.7" stroke-linecap="round"/>
<line x1="644.0" y1="181.3" x2="661.0" y2="181.3" stroke="#E64B35" stroke-width="2.7" stroke-linecap="round"/>
<polyline points="232.2,439.0 356.4,424.6 432.2,220.5 488.0,277.0 531.0,291.0 579.3,194.0 652.5,146.6" fill="none" stroke="#E64B35" stroke-width="3.2" stroke-linejoin="round" stroke-linecap="round"/>
<ellipse cx="232.2" cy="439.0" rx="7.45" ry="6.4" fill="#E64B35"/>
<ellipse cx="356.4" cy="424.6" rx="7.45" ry="6.4" fill="#E64B35"/>
<ellipse cx="432.2" cy="220.5" rx="7.45" ry="6.4" fill="#E64B35"/>
<ellipse cx="488.0" cy="277.0" rx="7.45" ry="6.4" fill="#E64B35"/>
<ellipse cx="531.0" cy="291.0" rx="7.45" ry="6.4" fill="#E64B35"/>
<ellipse cx="579.3" cy="194.0" rx="7.45" ry="6.4" fill="#E64B35"/>
<ellipse cx="652.5" cy="146.6" rx="7.45" ry="6.4" fill="#E64B35"/>
<path d="M227.1,420.6L237.3,429.4M227.1,429.4L237.3,420.6" stroke="#0000FF" stroke-width="3.0" stroke-linecap="round"/>
<path d="M351.3,417.9L361.5,426.7M351.3,426.7L361.5,417.9" stroke="#0000FF" stroke-width="3.0" stroke-linecap="round"/>
<path d="M427.1,216.1L437.3,224.9M427.1,224.9L437.3,216.1" stroke="#0000FF" stroke-width="3.0" stroke-linecap="round"/>
<path d="M482.9,272.6L493.1,281.4M482.9,281.4L493.1,272.6" stroke="#0000FF" stroke-width="3.0" stroke-linecap="round"/>
<path d="M525.9,286.6L536.1,295.4M525.9,295.4L536.1,286.6" stroke="#0000FF" stroke-width="3.0" stroke-linecap="round"/>
<path d="M574.2,193.3L584.4,202.1M574.2,202.1L584.4,193.3" stroke="#0000FF" stroke-width="3.0" stroke-linecap="round"/>
<path d="M647.4,146.3L657.6,155.1M647.4,155.1L657.6,146.3" stroke="#0000FF" stroke-width="3.0" stroke-linecap="round"/>
<line x1="170.7" y1="579.0" x2="170.7" y2="579.0" stroke="#00A087" stroke-width="3.3" stroke-linecap="round"/>
<line x1="162.1" y1="579.0" x2="179.2" y2="579.0" stroke="#00A087" stroke-width="2.7" stroke-linecap="round"/>
<line x1="162.1" y1="579.0" x2="179.2" y2="579.0" stroke="#00A087" stroke-width="2.7" stroke-linecap="round"/>
<line x1="462.5" y1="85.0" x2="462.5" y2="421.1" stroke="#00A087" stroke-width="3.3" stroke-linecap="round"/>
<line x1="453.9" y1="85.0" x2="471.1" y2="85.0" stroke="#00A087" stroke-width="2.7" stroke-linecap="round"/>
<line x1="453.9" y1="421.1" x2="471.1" y2="421.1" stroke="#00A087" stroke-width="2.7" stroke-linecap="round"/>
<line x1="592.8" y1="128.6" x2="592.8" y2="219.6" stroke="#00A087" stroke-width="3.3" stroke-linecap="round"/>
<line x1="584.2" y1="128.6" x2="601.3" y2="128.6" stroke="#00A087" stroke-width="2.7" stroke-linecap="round"/>
<line x1="584.2" y1="219.6" x2="601.3" y2="219.6" stroke="#00A087" stroke-width="2.7" stroke-linecap="round"/>
<polyline points="462.5,289.9 592.8,177.2" fill="none" stroke="#00A087" stroke-width="3.2" stroke-linejoin="round" stroke-linecap="round"/>
<ellipse cx="170.7" cy="579.0" rx="7.45" ry="6.4" fill="#00A087"/>
<ellipse cx="462.5" cy="289.9" rx="7.45" ry="6.4" fill="#00A087"/>
<ellipse cx="592.8" cy="177.2" rx="7.45" ry="6.4" fill="#00A087"/>
<path d="M165.6,574.6L175.8,583.4M165.6,583.4L175.8,574.6" stroke="#0000FF" stroke-width="3.0" stroke-linecap="round"/>
<path d="M457.4,297.3L467.6,306.1M457.4,306.1L467.6,297.3" stroke="#0000FF" stroke-width="3.0" stroke-linecap="round"/>
<path d="M587.7,175.7L597.9,184.5M587.7,184.5L597.9,175.7" stroke="#0000FF" stroke-width="3.0" stroke-linecap="round"/>
<line x1="1343.9" y1="150.0" x2="1343.9" y2="221.5" stroke="#4DBBD5" stroke-width="3.3" stroke-linecap="round"/>
<line x1="1341.7" y1="150.0" x2="1346.1" y2="150.0" stroke="#4DBBD5" stroke-width="2.7" stroke-linecap="round"/>
<line x1="1341.7" y1="221.5" x2="1346.1" y2="221.5" stroke="#4DBBD5" stroke-width="2.7" stroke-linecap="round"/>
<line x1="1429.6" y1="85.0" x2="1429.6" y2="109.3" stroke="#4DBBD5" stroke-width="3.3" stroke-linecap="round"/>
<line x1="1427.4" y1="85.0" x2="1431.8" y2="85.0" stroke="#4DBBD5" stroke-width="2.7" stroke-linecap="round"/>
<line x1="1427.4" y1="109.3" x2="1431.8" y2="109.3" stroke="#4DBBD5" stroke-width="2.7" stroke-linecap="round"/>
<line x1="1434.3" y1="85.0" x2="1434.3" y2="113.3" stroke="#4DBBD5" stroke-width="3.3" stroke-linecap="round"/>
<line x1="1432.1" y1="85.0" x2="1436.5" y2="85.0" stroke="#4DBBD5" stroke-width="2.7" stroke-linecap="round"/>
<line x1="1432.1" y1="113.3" x2="1436.5" y2="113.3" stroke="#4DBBD5" stroke-width="2.7" stroke-linecap="round"/>
<polyline points="1343.9,183.9 1429.6,96.0 1434.3,92.5 1441.5,89.6" fill="none" stroke="#4DBBD5" stroke-width="3.2" stroke-linejoin="round" stroke-linecap="round"/>
<ellipse cx="1343.9" cy="183.9" rx="7.45" ry="6.4" fill="#4DBBD5"/>
<ellipse cx="1429.6" cy="96.0" rx="7.45" ry="6.4" fill="#4DBBD5"/>
<ellipse cx="1434.3" cy="92.5" rx="7.45" ry="6.4" fill="#4DBBD5"/>
<ellipse cx="1441.5" cy="89.6" rx="7.45" ry="6.4" fill="#4DBBD5"/>
<path d="M1338.8,179.5L1349.0,188.3M1338.8,188.3L1349.0,179.5" stroke="#0000FF" stroke-width="3.0" stroke-linecap="round"/>
<path d="M1424.5,91.6L1434.7,100.4M1424.5,100.4L1434.7,91.6" stroke="#0000FF" stroke-width="3.0" stroke-linecap="round"/>
<path d="M1429.2,88.1L1439.4,96.9M1429.2,96.9L1439.4,88.1" stroke="#0000FF" stroke-width="3.0" stroke-linecap="round"/>
<path d="M1436.4,86.5L1446.6,95.3M1436.4,95.3L1446.6,86.5" stroke="#0000FF" stroke-width="3.0" stroke-linecap="round"/>
<line x1="1247.6" y1="209.4" x2="1247.6" y2="322.6" stroke="#E64B35" stroke-width="3.3" stroke-linecap="round"/>
<line x1="1243.9" y1="209.4" x2="1251.3" y2="209.4" stroke="#E64B35" stroke-width="2.7" stroke-linecap="round"/>
<line x1="1243.9" y1="322.6" x2="1251.3" y2="322.6" stroke="#E64B35" stroke-width="2.7" stroke-linecap="round"/>
<line x1="1359.6" y1="110.0" x2="1359.6" y2="197.5" stroke="#E64B35" stroke-width="3.3" stroke-linecap="round"/>
<line x1="1355.9" y1="110.0" x2="1363.3" y2="110.0" stroke="#E64B35" stroke-width="2.7" stroke-linecap="round"/>
<line x1="1355.9" y1="197.5" x2="1363.3" y2="197.5" stroke="#E64B35" stroke-width="2.7" stroke-linecap="round"/>
<line x1="1391.1" y1="92.6" x2="1391.1" y2="177.5" stroke="#E64B35" stroke-width="3.3" stroke-linecap="round"/>
<line x1="1387.4" y1="92.6" x2="1394.8" y2="92.6" stroke="#E64B35" stroke-width="2.7" stroke-linecap="round"/>
<line x1="1387.4" y1="177.5" x2="1394.8" y2="177.5" stroke="#E64B35" stroke-width="2.7" stroke-linecap="round"/>
<line x1="1407.3" y1="85.0" x2="1407.3" y2="154.8" stroke="#E64B35" stroke-width="3.3" stroke-linecap="round"/>
<line x1="1403.6" y1="85.0" x2="1411.0" y2="85.0" stroke="#E64B35" stroke-width="2.7" stroke-linecap="round"/>
<line x1="1403.6" y1="154.8" x2="1411.0" y2="154.8" stroke="#E64B35" stroke-width="2.7" stroke-linecap="round"/>
<line x1="1419.9" y1="85.0" x2="1419.9" y2="133.8" stroke="#E64B35" stroke-width="3.3" stroke-linecap="round"/>
<line x1="1416.2" y1="85.0" x2="1423.6" y2="85.0" stroke="#E64B35" stroke-width="2.7" stroke-linecap="round"/>
<line x1="1416.2" y1="133.8" x2="1423.6" y2="133.8" stroke="#E64B35" stroke-width="2.7" stroke-linecap="round"/>
<line x1="1431.7" y1="85.0" x2="1431.7" y2="100.0" stroke="#E64B35" stroke-width="3.3" stroke-linecap="round"/>
<line x1="1428.0" y1="85.0" x2="1435.4" y2="85.0" stroke="#E64B35" stroke-width="2.7" stroke-linecap="round"/>
<line x1="1428.0" y1="100.0" x2="1435.4" y2="100.0" stroke="#E64B35" stroke-width="2.7" stroke-linecap="round"/>
<polyline points="1247.6,270.7 1359.6,155.6 1391.1,136.4 1407.3,119.2 1419.9,107.5 1431.7,89.6" fill="none" stroke="#E64B35" stroke-width="3.2" stroke-linejoin="round" stroke-linecap="round"/>
<ellipse cx="1247.6" cy="270.7" rx="7.45" ry="6.4" fill="#E64B35"/>
<ellipse cx="1359.6" cy="155.6" rx="7.45" ry="6.4" fill="#E64B35"/>
<ellipse cx="1391.1" cy="136.4" rx="7.45" ry="6.4" fill="#E64B35"/>
<ellipse cx="1407.3" cy="119.2" rx="7.45" ry="6.4" fill="#E64B35"/>
<ellipse cx="1419.9" cy="107.5" rx="7.45" ry="6.4" fill="#E64B35"/>
<ellipse cx="1431.7" cy="89.6" rx="7.45" ry="6.4" fill="#E64B35"/>
<path d="M1242.5,255.2L1252.7,264.0M1242.5,264.0L1252.7,255.2" stroke="#0000FF" stroke-width="3.0" stroke-linecap="round"/>
<path d="M1354.5,157.2L1364.7,166.0M1354.5,166.0L1364.7,157.2" stroke="#0000FF" stroke-width="3.0" stroke-linecap="round"/>
<path d="M1386.0,139.2L1396.2,148.0M1386.0,148.0L1396.2,139.2" stroke="#0000FF" stroke-width="3.0" stroke-linecap="round"/>
<path d="M1402.2,124.0L1412.4,132.8M1402.2,132.8L1412.4,124.0" stroke="#0000FF" stroke-width="3.0" stroke-linecap="round"/>
<path d="M1414.8,106.6L1425.0,115.4M1414.8,115.4L1425.0,106.6" stroke="#0000FF" stroke-width="3.0" stroke-linecap="round"/>
<path d="M1426.6,87.7L1436.8,96.5M1426.6,96.5L1436.8,87.7" stroke="#0000FF" stroke-width="3.0" stroke-linecap="round"/>
<line x1="1074.1" y1="264.6" x2="1074.1" y2="443.1" stroke="#00A087" stroke-width="3.3" stroke-linecap="round"/>
<line x1="1067.5" y1="264.6" x2="1080.7" y2="264.6" stroke="#00A087" stroke-width="2.7" stroke-linecap="round"/>
<line x1="1067.5" y1="443.1" x2="1080.7" y2="443.1" stroke="#00A087" stroke-width="2.7" stroke-linecap="round"/>
<line x1="1237.8" y1="175.1" x2="1237.8" y2="384.4" stroke="#00A087" stroke-width="3.3" stroke-linecap="round"/>
<line x1="1231.2" y1="175.1" x2="1244.4" y2="175.1" stroke="#00A087" stroke-width="2.7" stroke-linecap="round"/>
<line x1="1231.2" y1="384.4" x2="1244.4" y2="384.4" stroke="#00A087" stroke-width="2.7" stroke-linecap="round"/>
<line x1="1306.3" y1="142.0" x2="1306.3" y2="346.6" stroke="#00A087" stroke-width="3.3" stroke-linecap="round"/>
<line x1="1299.7" y1="142.0" x2="1312.9" y2="142.0" stroke="#00A087" stroke-width="2.7" stroke-linecap="round"/>
<line x1="1299.7" y1="346.6" x2="1312.9" y2="346.6" stroke="#00A087" stroke-width="2.7" stroke-linecap="round"/>
<line x1="1344.4" y1="84.8" x2="1344.4" y2="185.2" stroke="#00A087" stroke-width="3.3" stroke-linecap="round"/>
<line x1="1337.8" y1="84.8" x2="1351.0" y2="84.8" stroke="#00A087" stroke-width="2.7" stroke-linecap="round"/>
<line x1="1337.8" y1="185.2" x2="1351.0" y2="185.2" stroke="#00A087" stroke-width="2.7" stroke-linecap="round"/>
<line x1="1376.7" y1="85.0" x2="1376.7" y2="257.8" stroke="#00A087" stroke-width="3.3" stroke-linecap="round"/>
<line x1="1370.1" y1="85.0" x2="1383.3" y2="85.0" stroke="#00A087" stroke-width="2.7" stroke-linecap="round"/>
<line x1="1370.1" y1="257.8" x2="1383.3" y2="257.8" stroke="#00A087" stroke-width="2.7" stroke-linecap="round"/>
<line x1="1407.7" y1="85.0" x2="1407.7" y2="100.0" stroke="#00A087" stroke-width="3.3" stroke-linecap="round"/>
<line x1="1401.1" y1="85.0" x2="1414.3" y2="85.0" stroke="#00A087" stroke-width="2.7" stroke-linecap="round"/>
<line x1="1401.1" y1="100.0" x2="1414.3" y2="100.0" stroke="#00A087" stroke-width="2.7" stroke-linecap="round"/>
<polyline points="1074.1,372.5 1237.8,298.2 1306.3,259.9 1344.4,137.5 1376.7,173.3 1407.7,89.1" fill="none" stroke="#00A087" stroke-width="3.2" stroke-linejoin="round" stroke-linecap="round"/>
<ellipse cx="1074.1" cy="372.5" rx="7.45" ry="6.4" fill="#00A087"/>
<ellipse cx="1237.8" cy="298.2" rx="7.45" ry="6.4" fill="#00A087"/>
<ellipse cx="1306.3" cy="259.9" rx="7.45" ry="6.4" fill="#00A087"/>
<ellipse cx="1344.4" cy="137.5" rx="7.45" ry="6.4" fill="#00A087"/>
<ellipse cx="1376.7" cy="173.3" rx="7.45" ry="6.4" fill="#00A087"/>
<ellipse cx="1407.7" cy="89.1" rx="7.45" ry="6.4" fill="#00A087"/>
<path d="M1069.0,345.3L1079.2,354.1M1069.0,354.1L1079.2,345.3" stroke="#0000FF" stroke-width="3.0" stroke-linecap="round"/>
<path d="M1232.7,292.8L1242.9,301.6M1232.7,301.6L1242.9,292.8" stroke="#0000FF" stroke-width="3.0" stroke-linecap="round"/>
<path d="M1301.2,255.5L1311.4,264.3M1301.2,264.3L1311.4,255.5" stroke="#0000FF" stroke-width="3.0" stroke-linecap="round"/>
<path d="M1339.3,143.3L1349.5,152.1M1339.3,152.1L1349.5,143.3" stroke="#0000FF" stroke-width="3.0" stroke-linecap="round"/>
<path d="M1371.6,180.2L1381.8,189.0M1371.6,189.0L1381.8,180.2" stroke="#0000FF" stroke-width="3.0" stroke-linecap="round"/>
<path d="M1402.6,93.9L1412.8,102.7M1402.6,102.7L1412.8,93.9" stroke="#0000FF" stroke-width="3.0" stroke-linecap="round"/>
<line x1="162.2" y1="599.0" x2="162.2" y2="610.0" stroke="#000" stroke-width="2.4"/>
<line x1="140.3" y1="579.2" x2="128.8" y2="579.2" stroke="#000" stroke-width="2.4"/>
<text x="0" y="0" transform="translate(162.5,633.8) scale(1.09,1)" text-anchor="middle" class="tk">0.0</text>
<text x="0" y="0" transform="translate(121.0,587.8) scale(1.09,1)" text-anchor="end" class="tk">0.0</text>
<line x1="271.7" y1="599.0" x2="271.7" y2="610.0" stroke="#000" stroke-width="2.4"/>
<line x1="140.3" y1="480.4" x2="128.8" y2="480.4" stroke="#000" stroke-width="2.4"/>
<text x="0" y="0" transform="translate(272.0,633.8) scale(1.09,1)" text-anchor="middle" class="tk">0.2</text>
<text x="0" y="0" transform="translate(121.0,489.0) scale(1.09,1)" text-anchor="end" class="tk">0.2</text>
<line x1="381.2" y1="599.0" x2="381.2" y2="610.0" stroke="#000" stroke-width="2.4"/>
<line x1="140.3" y1="381.5" x2="128.8" y2="381.5" stroke="#000" stroke-width="2.4"/>
<text x="0" y="0" transform="translate(381.5,633.8) scale(1.09,1)" text-anchor="middle" class="tk">0.4</text>
<text x="0" y="0" transform="translate(121.0,390.1) scale(1.09,1)" text-anchor="end" class="tk">0.4</text>
<line x1="490.8" y1="599.0" x2="490.8" y2="610.0" stroke="#000" stroke-width="2.4"/>
<line x1="140.3" y1="282.7" x2="128.8" y2="282.7" stroke="#000" stroke-width="2.4"/>
<text x="0" y="0" transform="translate(491.1,633.8) scale(1.09,1)" text-anchor="middle" class="tk">0.6</text>
<text x="0" y="0" transform="translate(121.0,291.3) scale(1.09,1)" text-anchor="end" class="tk">0.6</text>
<line x1="600.3" y1="599.0" x2="600.3" y2="610.0" stroke="#000" stroke-width="2.4"/>
<line x1="140.3" y1="183.8" x2="128.8" y2="183.8" stroke="#000" stroke-width="2.4"/>
<text x="0" y="0" transform="translate(600.6,633.8) scale(1.09,1)" text-anchor="middle" class="tk">0.8</text>
<text x="0" y="0" transform="translate(121.0,192.4) scale(1.09,1)" text-anchor="end" class="tk">0.8</text>
<line x1="709.8" y1="599.0" x2="709.8" y2="610.0" stroke="#000" stroke-width="2.4"/>
<line x1="140.3" y1="85.0" x2="128.8" y2="85.0" stroke="#000" stroke-width="2.4"/>
<text x="0" y="0" transform="translate(710.1,633.8) scale(1.09,1)" text-anchor="middle" class="tk"><tspan fill="transparent">1</tspan>.0</text>
<text x="0" y="0" transform="translate(121.0,93.6) scale(1.09,1)" text-anchor="end" class="tk"><tspan fill="transparent">1</tspan>.0</text>
<text x="0" y="0" transform="translate(436.0,53.8) scale(1.1,1)" text-anchor="middle" class="ti">Training set</text>
<text x="0" y="0" transform="translate(436.0,671.0) scale(1.088,1)" text-anchor="middle" class="ax">Nomogram predicted survival probability</text>
<text x="0" y="0" transform="translate(64.3,332.1) rotate(-90) scale(0.914,1)" text-anchor="middle" class="axy">Observed fraction survival probability</text>
<text x="0" y="0" transform="translate(5.6,48.4) scale(1.075,1)" class="lt">A</text>
<line x1="897.9" y1="599.0" x2="897.9" y2="610.0" stroke="#000" stroke-width="2.4"/>
<line x1="876.0" y1="579.2" x2="864.5" y2="579.2" stroke="#000" stroke-width="2.4"/>
<text x="0" y="0" transform="translate(898.2,633.8) scale(1.09,1)" text-anchor="middle" class="tk">0.0</text>
<text x="0" y="0" transform="translate(857.5,587.8) scale(1.09,1)" text-anchor="end" class="tk">0.0</text>
<line x1="1007.4" y1="599.0" x2="1007.4" y2="610.0" stroke="#000" stroke-width="2.4"/>
<line x1="876.0" y1="480.4" x2="864.5" y2="480.4" stroke="#000" stroke-width="2.4"/>
<text x="0" y="0" transform="translate(1007.7,633.8) scale(1.09,1)" text-anchor="middle" class="tk">0.2</text>
<text x="0" y="0" transform="translate(857.5,489.0) scale(1.09,1)" text-anchor="end" class="tk">0.2</text>
<line x1="1116.9" y1="599.0" x2="1116.9" y2="610.0" stroke="#000" stroke-width="2.4"/>
<line x1="876.0" y1="381.5" x2="864.5" y2="381.5" stroke="#000" stroke-width="2.4"/>
<text x="0" y="0" transform="translate(1117.2,633.8) scale(1.09,1)" text-anchor="middle" class="tk">0.4</text>
<text x="0" y="0" transform="translate(857.5,390.1) scale(1.09,1)" text-anchor="end" class="tk">0.4</text>
<line x1="1226.5" y1="599.0" x2="1226.5" y2="610.0" stroke="#000" stroke-width="2.4"/>
<line x1="876.0" y1="282.7" x2="864.5" y2="282.7" stroke="#000" stroke-width="2.4"/>
<text x="0" y="0" transform="translate(1226.8,633.8) scale(1.09,1)" text-anchor="middle" class="tk">0.6</text>
<text x="0" y="0" transform="translate(857.5,291.3) scale(1.09,1)" text-anchor="end" class="tk">0.6</text>
<line x1="1336.0" y1="599.0" x2="1336.0" y2="610.0" stroke="#000" stroke-width="2.4"/>
<line x1="876.0" y1="183.8" x2="864.5" y2="183.8" stroke="#000" stroke-width="2.4"/>
<text x="0" y="0" transform="translate(1336.3,633.8) scale(1.09,1)" text-anchor="middle" class="tk">0.8</text>
<text x="0" y="0" transform="translate(857.5,192.4) scale(1.09,1)" text-anchor="end" class="tk">0.8</text>
<line x1="1445.5" y1="599.0" x2="1445.5" y2="610.0" stroke="#000" stroke-width="2.4"/>
<line x1="876.0" y1="85.0" x2="864.5" y2="85.0" stroke="#000" stroke-width="2.4"/>
<text x="0" y="0" transform="translate(1445.8,633.8) scale(1.09,1)" text-anchor="middle" class="tk"><tspan fill="transparent">1</tspan>.0</text>
<text x="0" y="0" transform="translate(857.5,93.6) scale(1.09,1)" text-anchor="end" class="tk"><tspan fill="transparent">1</tspan>.0</text>
<text x="0" y="0" transform="translate(1171.7,53.8) scale(1.1,1)" text-anchor="middle" class="ti">Tseting set</text>
<text x="0" y="0" transform="translate(1171.7,671.0) scale(1.088,1)" text-anchor="middle" class="ax">Nomogram predicted survival probability</text>
<text x="0" y="0" transform="translate(800.8,332.1) rotate(-90) scale(0.914,1)" text-anchor="middle" class="axy">Observed fraction survival probability</text>
<text x="0" y="0" transform="translate(742.2,48.4) scale(1.075,1)" class="lt">B</text>
<line x1="566.9" y1="512.2" x2="593.1" y2="512.2" stroke="#4DBBD5" stroke-width="3" stroke-linecap="round"/>
<text x="0" y="0" transform="translate(610.9,521.1) scale(1.095,1)" class="lg">7-days</text>
<line x1="566.9" y1="534.0" x2="593.1" y2="534.0" stroke="#E64B35" stroke-width="3" stroke-linecap="round"/>
<text x="0" y="0" transform="translate(610.9,542.9) scale(1.095,1)" class="lg"><tspan fill="transparent">1</tspan>4-days</text>
<line x1="566.9" y1="555.7" x2="593.1" y2="555.7" stroke="#00A087" stroke-width="3" stroke-linecap="round"/>
<text x="0" y="0" transform="translate(610.9,564.6) scale(1.095,1)" class="lg">28-days</text>
<line x1="566.9" y1="577.5" x2="593.1" y2="577.5" stroke="#BEBEBE" stroke-width="3" stroke-linecap="round"/>
<text x="0" y="0" transform="translate(610.9,586.4) scale(1.095,1)" class="lg">Ideal line</text>
<line x1="1302.6" y1="512.2" x2="1328.8" y2="512.2" stroke="#4DBBD5" stroke-width="3" stroke-linecap="round"/>
<text x="0" y="0" transform="translate(1346.6,521.1) scale(1.095,1)" class="lg">7-days</text>
<line x1="1302.6" y1="534.0" x2="1328.8" y2="534.0" stroke="#E64B35" stroke-width="3" stroke-linecap="round"/>
<text x="0" y="0" transform="translate(1346.6,542.9) scale(1.095,1)" class="lg"><tspan fill="transparent">1</tspan>4-days</text>
<line x1="1302.6" y1="555.7" x2="1328.8" y2="555.7" stroke="#00A087" stroke-width="3" stroke-linecap="round"/>
<text x="0" y="0" transform="translate(1346.6,564.6) scale(1.095,1)" class="lg">28-days</text>
<line x1="1302.6" y1="577.5" x2="1328.8" y2="577.5" stroke="#BEBEBE" stroke-width="3" stroke-linecap="round"/>
<text x="0" y="0" transform="translate(1346.6,586.4) scale(1.095,1)" class="lg">Ideal line</text>
<path d="M94.08,76.70 L94.08,93.40 L91.92,93.40 L91.92,80.10 L86.90,83.20 L86.90,81.00 L92.33,76.70 Z" fill="#4D4D4D"/>
<path d="M701.12,616.20 L701.12,633.40 L698.97,633.40 L698.97,619.60 L693.95,622.70 L693.95,620.50 L699.37,616.20 Z" fill="#4D4D4D"/>
<path d="M620.92,525.90 L620.92,542.50 L618.58,542.50 L618.58,529.30 L613.85,532.40 L613.85,530.20 L618.98,525.90 Z" fill="#000"/>
<path d="M830.58,76.70 L830.58,93.40 L828.42,93.40 L828.42,80.10 L823.40,83.20 L823.40,81.00 L828.82,76.70 Z" fill="#4D4D4D"/>
<path d="M1436.83,616.20 L1436.83,633.40 L1434.67,633.40 L1434.67,619.60 L1429.65,622.70 L1429.65,620.50 L1435.08,616.20 Z" fill="#4D4D4D"/>
<path d="M1356.62,525.90 L1356.62,542.50 L1354.28,542.50 L1354.28,529.30 L1349.55,532.40 L1349.55,530.20 L1354.68,525.90 Z" fill="#000"/>
</svg></body></html>
